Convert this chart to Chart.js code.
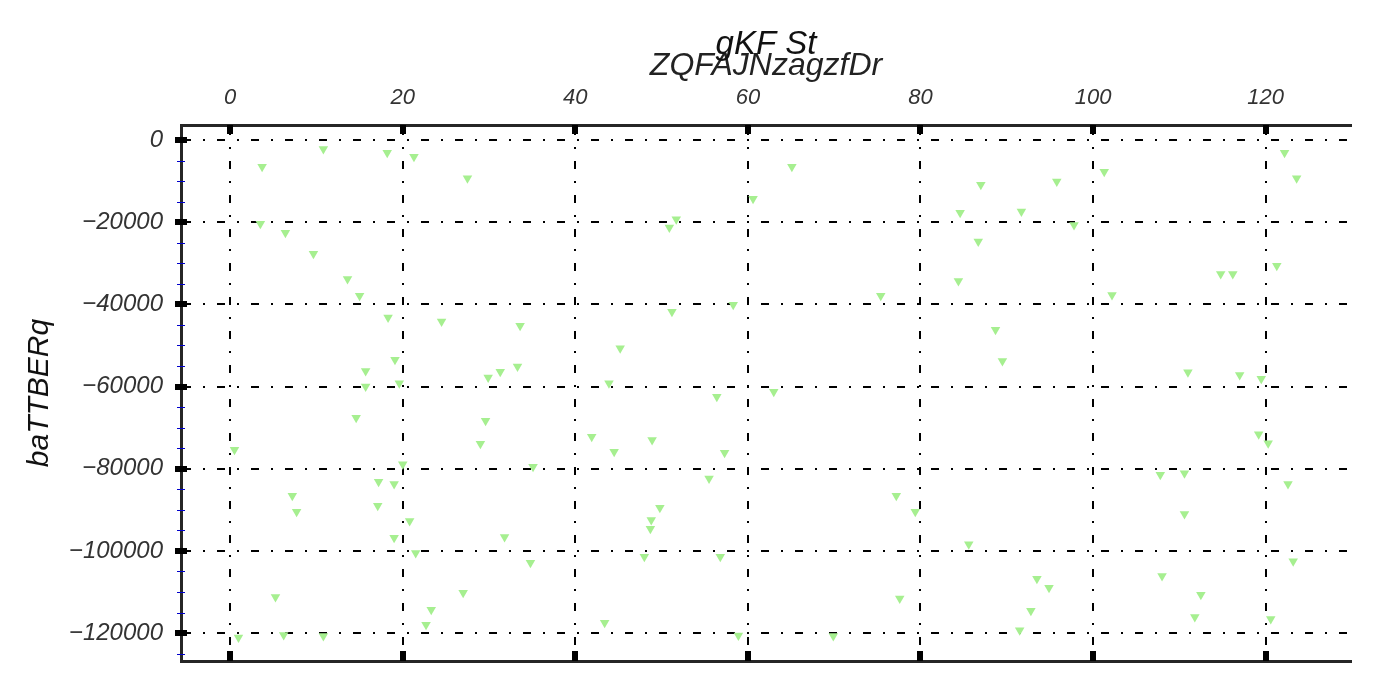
<!DOCTYPE html>
<html>
<head>
<meta charset="utf-8">
<script src="https://cdn.jsdelivr.net/npm/chart.js@4/dist/chart.umd.min.js"></script>
<style>
html,body{margin:0;padding:0;background:#fff;}
#wrap{width:1376px;height:688px;}
</style>
</head>
<body>
<div id="wrap"><canvas id="c" width="1376" height="688"></canvas></div>
<script>
const chartTitle = "gKF St";
const xTitle = "ZQFAJNzagzfDr";
const yTitle = "baTTBERq";
const xTicks = [0, 20, 40, 60, 80, 100, 120];
const yTicks = [0, -20000, -40000, -60000, -80000, -100000, -120000];
const xVals = [10.8, 18.2, 3.7, 21.3, 27.5, 3.5, 6.4, 9.65, 13.6, 15.0, 18.3, 24.5, 33.6, 19.1, 15.7, 33.3, 31.3, 29.9, 45.2, 43.9,
  15.7, 19.6, 14.6, 29.6, 29.0, 41.9, 44.5, 0.5, 20.0, 35.1, 17.2, 19.0, 7.2, 7.7, 17.1, 20.8, 19.0, 31.8, 21.5, 34.8,
  5.25, 27.0, 23.3, 22.7, 43.4, 0.96, 6.2, 10.8, 65.1, 60.6, 51.7, 50.9, 87.0, 84.6, 91.7, 86.7, 84.4, 75.4, 58.3, 51.2,
  88.7, 89.5, 56.4, 63.0, 48.9, 57.3, 55.5, 49.8, 48.8, 48.7, 48.0, 56.8, 77.2, 79.4, 85.6, 93.5, 94.9, 92.8, 91.5, 77.6,
  58.9, 69.9, 122.2, 123.6, 101.3, 95.8, 97.8, 121.3, 114.8, 116.2, 102.2, 111.0, 117.0, 119.5, 119.2, 120.3, 107.8, 110.6, 122.6, 110.6,
  123.2, 108.0, 112.5, 111.8, 120.6];
const yVals = [-2200, -3100, -6500, -4100, -9300, -20400, -22600, -27700, -33800, -37900, -43200, -44200, -45200, -53500, -56200, -55100, -56400, -57800, -50700, -59200,
  -60000, -59200, -67600, -68300, -73900, -72200, -75900, -75400, -78900, -79500, -83200, -83700, -86600, -90500, -89000, -92700, -96800, -96600, -100500, -102900,
  -111200, -110200, -114300, -118000, -117500, -121100, -120500, -120700, -6500, -14300, -19300, -21300, -10900, -17700, -17400, -24700, -34300, -37900, -40100, -41800,
  -46200, -53800, -62500, -61300, -73000, -76100, -82400, -89500, -92500, -94600, -101400, -101400, -86600, -90500, -98400, -106800, -109000, -114600, -119300, -111600,
  -120600, -120700, -3100, -9300, -7700, -10100, -20700, -30600, -32600, -32600, -37700, -56500, -57200, -58100, -71600, -73800, -81500, -81100, -83700, -91000,
  -102500, -106100, -110700, -116100, -116600];

const points = xVals.map((x, i) => ({x: x, y: yVals[i]}));
const X_MIN = -5.7, X_MAX = 129.9, Y_MIN = -126800, Y_MAX = 3650;
const FONT = "'Liberation Sans', Arial, sans-serif";
const SPINE = '#262626';
const GRID_DASH = [8, 12, 2, 12];

const tickMarks = {
  id: 'tickMarks',
  afterDraw(chart) {
    const ctx = chart.ctx;
    const ca = chart.chartArea;
    const xs = chart.scales.x, ys = chart.scales.y;
    ctx.save();
    ctx.strokeStyle = '#0000cc';
    ctx.lineWidth = 1;
    for (let v = -125000; v <= 0; v += 5000) {
      if (v % 20000 === 0) continue;
      const py = Math.round(ys.getPixelForValue(v)) + 0.5;
      ctx.beginPath();
      ctx.moveTo(ca.left - 4, py);
      ctx.lineTo(ca.left + 4, py);
      ctx.stroke();
    }
    ctx.fillStyle = '#000';
    yTicks.forEach(v => {
      const py = Math.round(ys.getPixelForValue(v));
      ctx.fillRect(ca.left - 6, py - 3, 12, 6);
    });
    xTicks.forEach(v => {
      const px = Math.round(xs.getPixelForValue(v));
      ctx.fillRect(px - 3, ca.top, 6, 9);
      ctx.fillRect(px - 3, ca.bottom - 10, 6, 10);
    });
    ctx.restore();
  }
};

new Chart(document.getElementById('c'), {
  type: 'scatter',
  data: {
    datasets: [{
      data: points,
      pointStyle: 'triangle',
      rotation: 180,
      pointRadius: 5.5,
      pointBackgroundColor: '#a6ef90',
      pointBorderColor: '#a6ef90',
      pointBorderWidth: 0
    }]
  },
  options: {
    responsive: false,
    animation: false,
    devicePixelRatio: 1,
    layout: {padding: {left: 0, right: 25, top: 0, bottom: 27}},
    plugins: {
      legend: {display: false},
      tooltip: {enabled: false},
      title: {
        display: true,
        fullSize: false,
        text: chartTitle,
        color: '#111',
        font: {family: FONT, size: 33, style: 'italic', weight: 'normal', lineHeight: 1.2},
        padding: {top: 25, bottom: -18}
      }
    },
    scales: {
      x: {
        type: 'linear',
        position: 'top',
        min: X_MIN, max: X_MAX,
        afterBuildTicks: s => { s.ticks = xTicks.map(v => ({value: v})); },
        afterFit: s => { s.height = 78.4; },
        ticks: {
          autoSkip: false, maxRotation: 0,
          padding: 13.5,
          color: '#333',
          font: {family: FONT, size: 22, style: 'italic', lineHeight: 1.2},
          callback: v => String(v)
        },
        grid: {color: '#000', lineWidth: 2, drawTicks: false},
        border: {display: true, color: SPINE, width: 3, dash: GRID_DASH},
        title: {
          display: true, text: xTitle, color: '#222',
          font: {family: FONT, size: 32, style: 'italic', lineHeight: 1.2},
          padding: {top: 0, bottom: 0}
        }
      },
      x2: {
        type: 'linear',
        position: 'bottom',
        min: X_MIN, max: X_MAX,
        afterFit: s => { s.height = 0; },
        ticks: {display: false},
        grid: {display: false, drawTicks: false},
        border: {display: true, color: SPINE, width: 3}
      },
      y: {
        type: 'linear',
        position: 'left',
        min: Y_MIN, max: Y_MAX,
        afterBuildTicks: s => { s.ticks = yTicks.map(v => ({value: v})); },
        afterFit: s => { s.width = 181; },
        ticks: {
          autoSkip: false,
          padding: 0,
          color: '#333',
          font: {family: FONT, size: 24, style: 'italic', lineHeight: 1.2},
          callback: v => (v < 0 ? '\u2212' + Math.abs(v) : String(v))
        },
        grid: {color: '#000', lineWidth: 2, drawTicks: true, tickLength: 18, tickColor: 'rgba(0,0,0,0)'},
        border: {display: true, color: SPINE, width: 3, dash: GRID_DASH},
        title: {
          display: true, text: yTitle, color: '#111',
          font: {family: FONT, size: 30, style: 'italic', lineHeight: 1.2},
          padding: {top: 22, bottom: 0}
        }
      }
    }
  },
  plugins: [tickMarks]
});
</script>
</body>
</html>
